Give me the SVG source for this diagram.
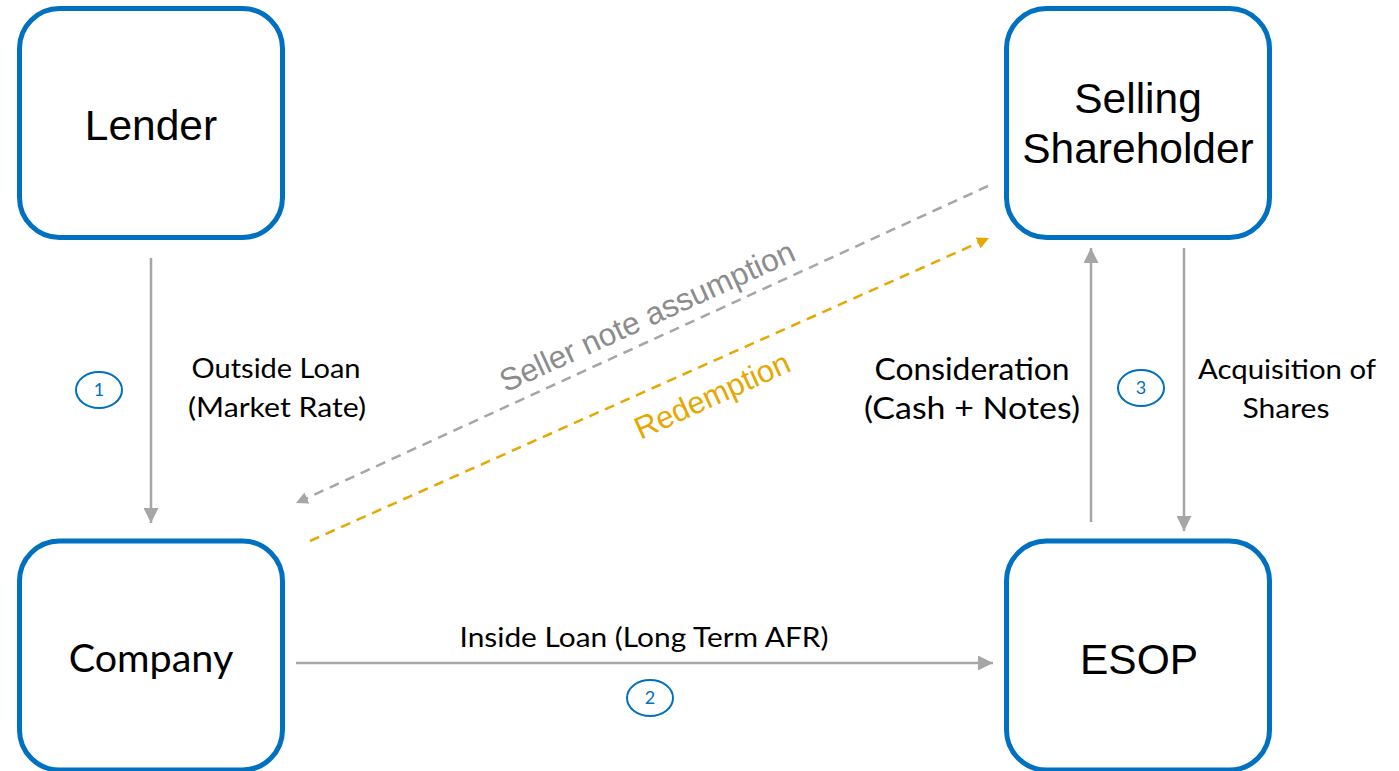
<svg xmlns="http://www.w3.org/2000/svg" width="1399" height="771" viewBox="0 0 1399 771">
<style>
.box{fill:#fff;stroke:#0070C0;stroke-width:5}
.nt{font-family:"Liberation Sans",Arial,sans-serif;font-size:42.5px;fill:#000;text-anchor:middle}
.ct{font-family:Lato,"Open Sans",sans-serif;font-size:39.5px;fill:#000;text-anchor:middle}
.lb{font-family:Lato,"Open Sans",sans-serif;font-size:27px;fill:#000;text-anchor:middle}
.num{fill:#fff;stroke:#0070C0;stroke-width:2}
.nn{font-family:Lato,"Open Sans",sans-serif;font-size:18px;fill:#0070C0;text-anchor:middle}
.ln{stroke:#A6A6A6;stroke-width:2.5;fill:none}
</style>
<defs>
<marker id="ag" viewBox="0 0 10 10" refX="10" refY="5" markerWidth="15" markerHeight="15" markerUnits="userSpaceOnUse" orient="auto"><path d="M0,0 L10,5 L0,10 z" fill="#A6A6A6"/></marker>
<marker id="ags" viewBox="0 0 10 10" refX="10" refY="5" markerWidth="12" markerHeight="12" markerUnits="userSpaceOnUse" orient="auto"><path d="M0,0 L10,5 L0,10 z" fill="#A6A6A6"/></marker>
<marker id="ay" viewBox="0 0 10 10" refX="10" refY="5" markerWidth="12" markerHeight="12" markerUnits="userSpaceOnUse" orient="auto"><path d="M0,0 L10,5 L0,10 z" fill="#E6A800"/></marker>
</defs>
<g id="connectors">
<line class="ln" x1="151" y1="258" x2="151" y2="523" marker-end="url(#ag)"/>
<line class="ln" x1="296" y1="663" x2="993" y2="663" marker-end="url(#ag)"/>
<line class="ln" x1="1091" y1="522" x2="1091" y2="248" marker-end="url(#ag)"/>
<line class="ln" x1="1184" y1="248" x2="1184" y2="531" marker-end="url(#ag)"/>
<line x1="988" y1="186" x2="296" y2="503" stroke="#A6A6A6" stroke-width="2.5" stroke-dasharray="10,7" marker-end="url(#ags)"/>
<line x1="310" y1="541" x2="989" y2="238" stroke="#E6A800" stroke-width="2.5" stroke-dasharray="10,7" marker-end="url(#ay)"/>
<text class="lb" x="276" y="378" textLength="169" lengthAdjust="spacingAndGlyphs">Outside Loan</text>
<text class="lb" x="277" y="417" textLength="178" lengthAdjust="spacingAndGlyphs">(Market Rate)</text>
<text class="lb" x="644" y="647" textLength="369" lengthAdjust="spacingAndGlyphs">Inside Loan (Long Term AFR)</text>
<text class="lb" x="972" y="380" style="font-size:31px" textLength="195" lengthAdjust="spacingAndGlyphs">Consideration</text>
<text class="lb" x="972" y="419" style="font-size:31px" textLength="216" lengthAdjust="spacingAndGlyphs">(Cash + Notes)</text>
<text class="lb" x="1287" y="379" textLength="178" lengthAdjust="spacingAndGlyphs">Acquisition of</text>
<text class="lb" x="1286" y="418" textLength="87" lengthAdjust="spacingAndGlyphs">Shares</text>
<text x="647" y="327" transform="rotate(-24.5 647 316)" font-family="'Liberation Sans',Arial,sans-serif" font-size="31.5" fill="#8C8C8C" text-anchor="middle">Seller note assumption</text>
<text x="712" y="406" transform="rotate(-24.5 712 395)" font-family="'Liberation Sans',Arial,sans-serif" font-size="31" fill="#E6A800" text-anchor="middle">Redemption</text>
<ellipse class="num" cx="99" cy="390" rx="23" ry="18"/>
<text class="nn" x="99" y="396">1</text>
<ellipse class="num" cx="650" cy="698" rx="23" ry="18"/>
<text class="nn" x="650" y="704">2</text>
<ellipse class="num" cx="1141" cy="388" rx="23" ry="18"/>
<text class="nn" x="1141" y="394">3</text>
</g>
<g id="lender">
<rect class="box" x="19.5" y="8.5" width="263" height="229" rx="40"/>
<text class="nt" x="151" y="140">Lender</text>
</g>
<g id="company">
<rect class="box" x="19.5" y="541" width="263" height="229" rx="40"/>
<text class="ct" x="151" y="672">Company</text>
</g>
<g id="selling-shareholder">
<rect class="box" x="1006.5" y="8.5" width="263" height="229" rx="40"/>
<text class="nt" x="1138" y="113">Selling</text>
<text class="nt" x="1138" y="163">Shareholder</text>
</g>
<g id="esop">
<rect class="box" x="1006.5" y="541" width="263" height="229" rx="40"/>
<text class="nt" x="1139" y="674">ESOP</text>
</g>
</svg>
